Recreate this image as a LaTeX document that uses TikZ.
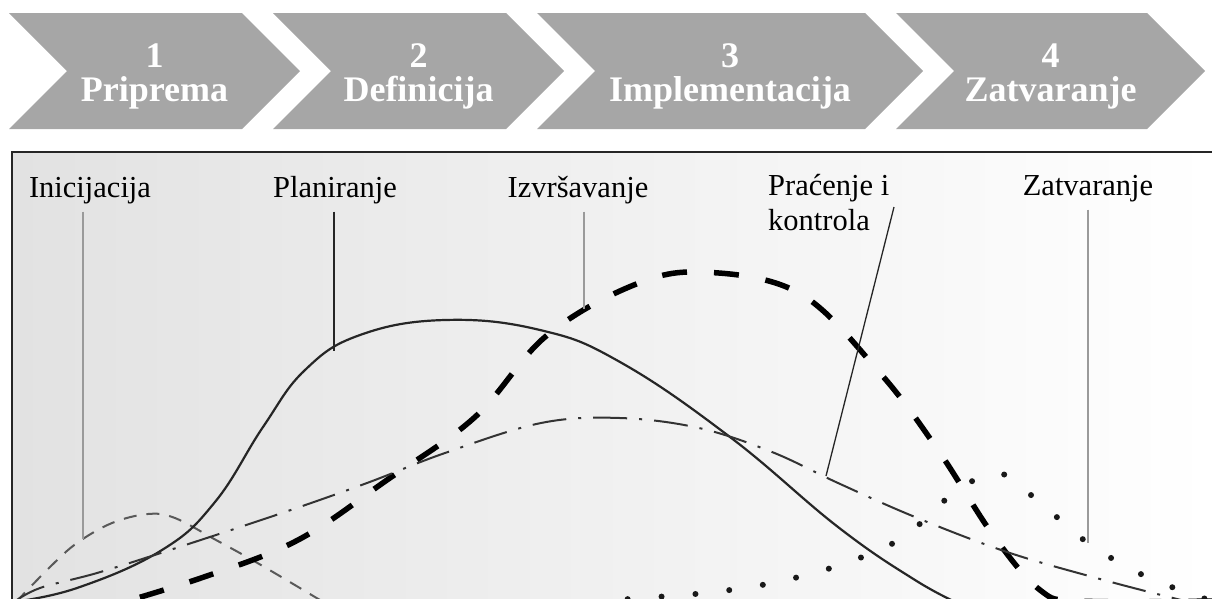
\documentclass[tikz,border=0pt]{standalone}
\usepackage{fontspec}
\setmainfont{Liberation Serif}
\usepackage{tikz}
\usetikzlibrary{positioning}
\definecolor{chevgrey}{HTML}{A6A6A6}
\definecolor{boxgrey}{HTML}{E2E2E2}
\definecolor{leadgrey}{HTML}{9A9A9A}

\begin{document}
\begin{tikzpicture}[x=1pt,y=-1pt]

 \tikzset{phase/.style={fill=chevgrey, draw=none},
 	phase text/.style={text=white, align=center, inner sep=0pt,
 		font=\bfseries\fontsize{36}{34}\selectfont},
 	curve label/.style={font=\fontsize{30.5}{35}\selectfont, inner sep=8pt},
 	leader/.style={draw=leadgrey, line width=1.6pt},
 	frame/.style={draw=black!85, line width=2.4pt},
 	initiation/.style={draw=black!65, line width=2pt, dash pattern=on 13pt off 10pt},
 	planning/.style={draw=black!85, line width=2.2pt},
 	execution/.style={draw=black, line width=5.5pt, dash pattern=on 25pt off 27pt},
 	monitoring/.style={draw=black!80, line width=2pt, dash pattern=on 34pt off 12pt on 3pt off 12pt},
 	closing/.style={draw=black!90, line width=6pt, line cap=round, dash pattern=on 0pt off 34pt}
 }
 \useasboundingbox (0,0) rectangle (1212,598);

 % phases
 \foreach \l/\t/\n/\w in {9/300/1/Priprema, 273/564/2/Definicija,
 	537/923/3/Implementacija, 896/1205/4/Zatvaranje}{
 	\fill[phase] (\l,13) -- (\t-58,13) -- (\t,71) -- (\t-58,129) -- (\l,129) -- (\l+58,71) -- cycle;
 	\node[phase text] (phase\n) at ({(\l+\t)/2},76) {\n\\\w};
 }

 \shade[left color=boxgrey, right color=white] (12,152) rectangle (1212,598);

 \begin{scope}
 \clip (13,153) rectangle (1212,598);
 \draw[initiation] plot[smooth, tension=0.6] coordinates {(16,602) (50,567) (77,543) (112,523)
 	(148,514) (175,518) (216,540) (247,557) (278,575) (320,600) (345,615)};
 \draw[planning] plot[smooth, tension=0.7] coordinates {(12,602) (77,588) (162,550) (215,502)
 	(263,427) (305,370) (360,335) (445,320) (540,330) (620,362) (730,437) (838,527) (915,580) (960,604)};
 \draw[execution] plot[smooth, tension=0.6] coordinates {(90,612) (201,578) (298,540) (387,480)
 	(475,417) (545,337) (629,287) (700,272) (799,293) (880,373) (938,450) (993,535) (1040,590)
 	(1080,601) (1212,601)};
 \draw[monitoring] plot[smooth, tension=0.6] coordinates {(14,602) (40,588) (97,573) (170,550)
 	(282,513) (367,483) (445,453) (541,423) (620,418) (699,428) (772,452) (838,483) (915,517)
 	(1007,552) (1100,579) (1173,598) (1215,608)};
 \draw[closing] plot[smooth, tension=0.6] coordinates {(560,606) (629,599) (705,593) (772,583)
 	(840,565) (902,538) (954,493) (998,473) (1037,500) (1088,543) (1147,577) (1215,602)};
 \end{scope}

 \draw[frame] (1214,152) -- (12,152) -- (12,600);

 % curve names
 \node[curve label, anchor=base] (ini) at (90,197) {Inicijacija};
 \node[curve label, anchor=base] (plan) at (335,197) {Planiranje};
 \node[curve label, anchor=base] (exec) at (578,197) {Izvršavanje};
 \node[curve label, anchor=north west, align=left] (ctrl) at (760,166) {Praćenje i\\kontrola};
 \node[curve label, anchor=base] (close) at (1088,195) {Zatvaranje};

 \coordinate (iniend) at (83,539);
 \coordinate (planend) at (334,351);
 \coordinate (execend) at (584,309);
 \coordinate (ctrlfrom) at (894,207);
 \coordinate (ctrlend) at (826,476);
 \coordinate (closeend) at (1088,543);

 \draw[leader] (ini.south -| iniend) -- (iniend);
 \draw[leader, draw=black!85] (plan.south -| planend) -- (planend);
 \draw[leader] (exec.south -| execend) -- (execend);
 \draw[leader, draw=black!85, line width=1.3pt] (ctrlfrom) -- (ctrlend);
 \draw[leader] (close.south -| closeend) -- (closeend);
\end{tikzpicture}
\end{document}
